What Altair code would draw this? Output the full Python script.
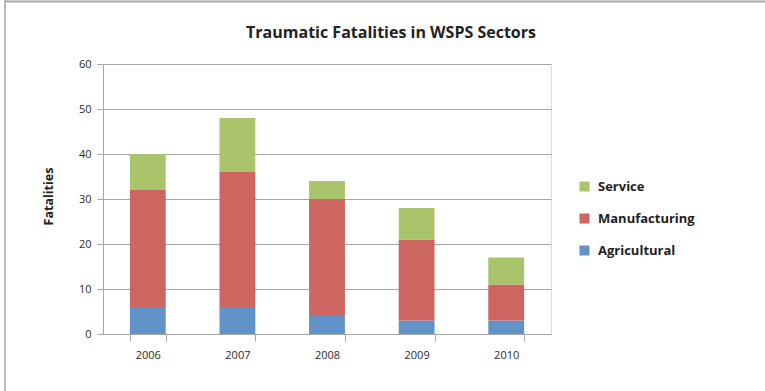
import altair as alt
import pandas as pd

years = ["2006", "2007", "2008", "2009", "2010"]
agricultural = [6, 6, 4, 3, 3]
manufacturing = [26, 30, 26, 18, 8]
service = [8, 12, 4, 7, 6]

sectors = ["Service", "Manufacturing", "Agricultural"]
colors = ["#AAC46B", "#CD6560", "#6193C9"]
stack_rank = {"Agricultural": 0, "Manufacturing": 1, "Service": 2}
title_text = "Traumatic Fatalities in WSPS Sectors"

rows = []
for i, y in enumerate(years):
    for name, vals in (("Agricultural", agricultural), ("Manufacturing", manufacturing), ("Service", service)):
        rows.append({"Year": y, "Sector": name, "Fatalities": vals[i], "rank": stack_rank[name]})
df = pd.DataFrame(rows)

FONT = "Open Sans"
W, H = 448, 270
PL, PT = 103, 64

bars = alt.Chart(df).mark_bar().encode(
    x=alt.X("Year:N", sort=years,
            scale=alt.Scale(paddingInner=0.6, paddingOuter=0.3),
            axis=alt.Axis(title=None, tickBand="extent", labelAngle=0, tickSize=7,
                          labelPadding=8, tickColor="#A6A6A6", domainColor="#A6A6A6",
                          labelFontSize=11, labelColor="#2a2a2a", labelFont=FONT, grid=False)),
    y=alt.Y("Fatalities:Q", stack="zero",
            scale=alt.Scale(domain=[0, 60]),
            axis=alt.Axis(values=[0, 10, 20, 30, 40, 50, 60], tickSize=6, labelPadding=6,
                          tickColor="#A6A6A6", domainColor="#A6A6A6", gridColor="#A6A6A6",
                          labelFontSize=11, labelColor="#2a2a2a", labelFont=FONT,
                          title="Fatalities", titleFont=FONT, titleFontSize=12.5,
                          titleFontWeight="bold", titleColor="#222222", titleAngle=-90,
                          titleX=-55, titleY=H / 2 - 3, titleAlign="center", titleBaseline="middle")),
    color=alt.Color("Sector:N", scale=alt.Scale(domain=sectors, range=colors),
                    legend=alt.Legend(title=None, orient="none", legendX=475, legendY=116,
                                      symbolType="square", symbolSize=100, symbolStrokeWidth=0,
                                      labelFont=FONT, labelFontSize=13, labelFontWeight="bold",
                                      labelColor="#222222", rowPadding=18, labelOffset=7)),
    order=alt.Order("rank:Q", sort="ascending"),
)

title = alt.Chart(pd.DataFrame({"t": [title_text]})).mark_text(
    font=FONT, fontSize=16, fontWeight="bold", color="#222222", align="center", baseline="middle"
).encode(text="t:N", x=alt.value(391 - PL), y=alt.value(33 - PT))

frame = pd.DataFrame({"k": [0]})
left_line = alt.Chart(frame).mark_rule(color="#A8A8A8", strokeWidth=1.5).encode(
    x=alt.value(5 - PL), y=alt.value(-PT), y2=alt.value(391 - PT))
top_line = alt.Chart(frame).mark_rule(color="#A8A8A8", strokeWidth=2).encode(
    x=alt.value(5 - PL), x2=alt.value(765 - PL), y=alt.value(1.5 - PT))

chart = alt.layer(bars, title, left_line, top_line).properties(
    width=W, height=H,
    padding={"left": PL, "top": PT, "right": 765 - PL - W, "bottom": 391 - PT - H},
    autosize=alt.AutoSizeParams(type="none"),
).configure_view(stroke=None).configure(background="white")

chart.save("out.html", embed_options={"renderer": "svg", "actions": False})
